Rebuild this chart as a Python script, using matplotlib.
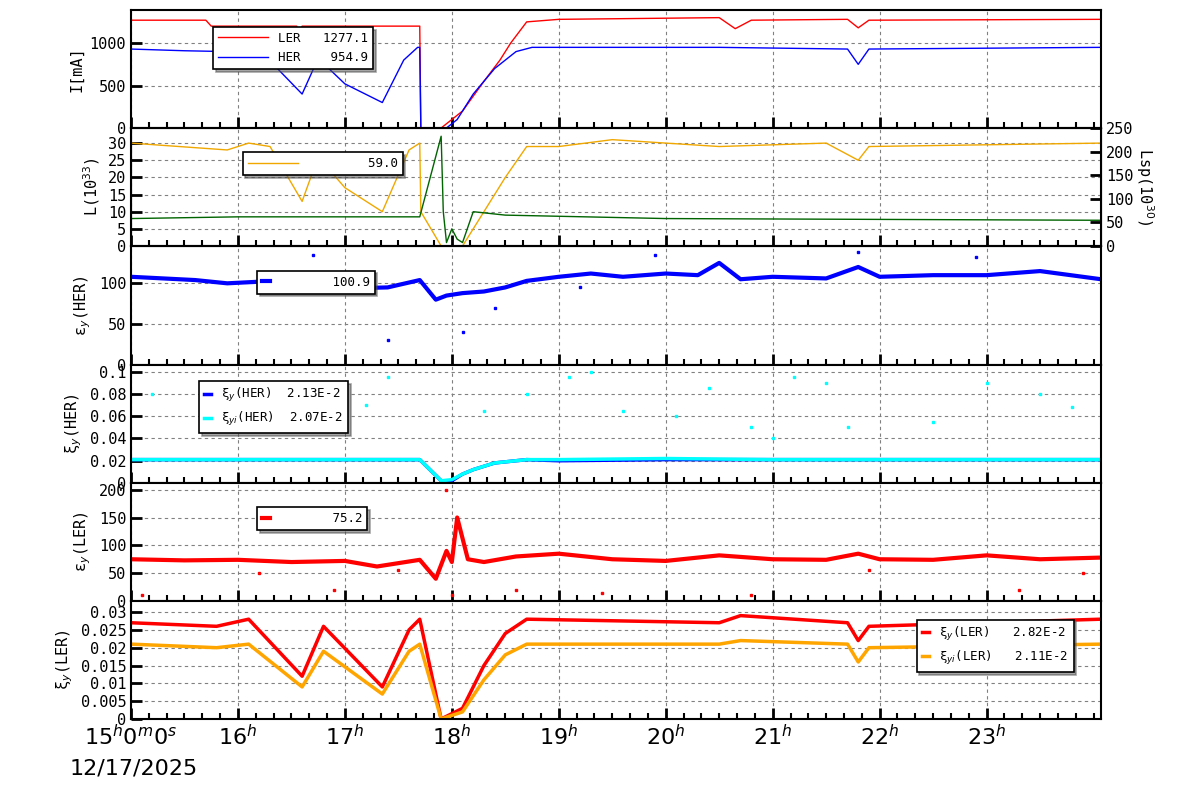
import matplotlib
matplotlib.use("Agg")
import matplotlib.pyplot as plt
import numpy as np

plt.rcParams["font.family"] = ["DejaVu Sans Mono", "DejaVu Sans"]

# ---- data (hours since midnight) ----
her_t = [15.0, 15.5, 15.9, 16.2, 16.6, 16.75, 17.0, 17.35, 17.55, 17.68, 17.7, 17.71, 17.95,
         18.05, 18.2, 18.4, 18.6, 18.75, 20.5, 21.7, 21.8, 21.9, 24.07]
her_i = [930, 910, 900, 920, 400, 820, 520, 300, 800, 950, 950, 0, 0,
         100, 400, 700, 900, 950, 950, 930, 750, 930, 950]
ler_t = [15.0, 15.7, 15.75, 16.55, 16.57, 16.6, 17.7, 17.71, 17.9, 18.1, 18.3, 18.45, 18.55,
         18.7, 19.0, 20.5, 20.65, 20.8, 21.7, 21.8, 21.9, 24.07]
ler_i = [1270, 1270, 1200, 1200, 1060, 1200, 1200, 0, 0, 200, 550, 800, 1000,
         1250, 1280, 1300, 1170, 1270, 1280, 1180, 1270, 1280]

lum_t = [15.0, 15.9, 16.1, 16.3, 16.6, 16.75, 17.0, 17.35, 17.6, 17.7, 17.71, 17.9, 18.1,
         18.3, 18.5, 18.7, 19.0, 19.5, 20.5, 21.5, 21.8, 21.9, 24.07]
lum_v = [30, 28, 30, 29, 13, 26, 17, 10, 28, 30, 10, 0, 0,
         10, 20, 29, 29, 31, 29, 30, 25, 29, 30]
lsp_t = [15.0, 16.0, 17.0, 17.7, 17.9, 17.92, 17.95, 18.0, 18.05, 18.1, 18.2, 18.5, 20.0, 24.07]
lsp_v = [8, 8.5, 8.5, 8.5, 32, 10, 1, 5, 2, 1, 10, 9, 8, 7.5]

ey_her_t = [15.0, 15.3, 15.6, 15.9, 16.2, 16.5, 16.8, 17.1, 17.4, 17.7, 17.85, 17.95, 18.1,
            18.3, 18.5, 18.7, 19.0, 19.3, 19.6, 20.0, 20.3, 20.5, 20.7, 21.0, 21.5, 21.8,
            22.0, 22.5, 23.0, 23.5, 24.07]
ey_her_v = [108, 106, 104, 100, 102, 97, 99, 94, 95, 104, 80, 85, 88,
            90, 95, 103, 108, 112, 108, 112, 110, 125, 105, 108, 106, 120,
            108, 110, 110, 115, 105]
ey_her_out_t = [16.7, 17.4, 18.1, 18.4, 19.2, 19.9, 21.8, 22.9]
ey_her_out_v = [135, 30, 40, 70, 95, 135, 138, 132]

xi_t = [15.0, 16.0, 17.0, 17.7, 17.9, 18.0, 18.1, 18.2, 18.4, 18.7, 19.0, 20.0, 21.0,
        22.0, 23.0, 24.07]
xi_her = [0.021, 0.021, 0.021, 0.021, 0.002, 0.002, 0.008, 0.012, 0.018, 0.021, 0.020,
          0.021, 0.021, 0.021, 0.021, 0.021]
xi_her_i = [0.021, 0.021, 0.021, 0.021, 0.002, 0.003, 0.008, 0.012, 0.018, 0.021, 0.021,
            0.022, 0.021, 0.021, 0.021, 0.021]
xi_out_t = [15.2, 15.7, 16.3, 16.7, 17.2, 17.4, 18.3, 18.7, 19.1, 19.3, 19.6, 20.1, 20.4,
            20.8, 21.0, 21.2, 21.5, 21.7, 22.5, 23.0, 23.5, 23.8]
xi_out_v = [0.08, 0.09, 0.07, 0.06, 0.07, 0.095, 0.065, 0.08, 0.095, 0.1, 0.065, 0.06,
            0.085, 0.05, 0.04, 0.095, 0.09, 0.05, 0.055, 0.09, 0.08, 0.068]

ey_ler_t = [15.0, 15.5, 16.0, 16.5, 17.0, 17.3, 17.7, 17.85, 17.95, 18.0, 18.05, 18.15,
            18.3, 18.6, 19.0, 19.5, 20.0, 20.5, 21.0, 21.5, 21.8, 22.0, 22.5, 23.0, 23.5, 24.07]
ey_ler_v = [75, 73, 74, 70, 72, 62, 74, 40, 90, 70, 150, 75,
            70, 80, 85, 75, 72, 82, 75, 74, 85, 75, 74, 82, 75, 78]
ey_ler_out_t = [15.1, 16.2, 16.9, 17.5, 17.95, 18.0, 18.6, 19.4, 20.8, 21.9, 23.3, 23.9]
ey_ler_out_v = [10, 50, 20, 55, 200, 10, 20, 15, 10, 55, 20, 50]

xl_t = [15.0, 15.8, 16.1, 16.6, 16.8, 17.35, 17.6, 17.7, 17.9, 18.1, 18.3, 18.5, 18.7,
        20.5, 20.7, 21.7, 21.8, 21.9, 24.07]
xl_y = [0.027, 0.026, 0.028, 0.012, 0.026, 0.009, 0.025, 0.028, 0.0, 0.003, 0.015, 0.024,
        0.028, 0.027, 0.029, 0.027, 0.022, 0.026, 0.028]
xl_yi = [0.021, 0.020, 0.021, 0.009, 0.019, 0.007, 0.019, 0.021, 0.0, 0.002, 0.011, 0.018,
         0.021, 0.021, 0.022, 0.021, 0.016, 0.020, 0.021]

hours = [15, 16, 17, 18, 19, 20, 21, 22, 23]
hour_labels = ["15$^h$0$^m$0$^s$"] + [f"{h}$^h$" for h in hours[1:]]

fig = plt.figure(figsize=(12, 7.98), dpi=100)
tops = [10, 128, 246, 365, 483, 601, 719]
axes = []
for k in range(6):
    y0 = 1 - tops[k + 1] / 798
    h = (tops[k + 1] - tops[k]) / 798
    ax = fig.add_axes([131 / 1200, y0, (1101 - 131) / 1200, h])
    ax.set_xlim(15.0, 24.07)
    ax.set_xticks(hours)
    ax.set_xticks(np.arange(15, 24.07, 1 / 6), minor=True)
    ax.grid(True, color="gray", ls=(0, (3, 3)), lw=0.8)
    ax.tick_params(direction="in", length=8, width=2, labelsize=11, top=False)
    ax.tick_params(which="minor", direction="in", length=4, width=1.5)
    for s in ax.spines.values():
        s.set_linewidth(1.5)
    if k < 5:
        ax.set_xticklabels([])
    axes.append(ax)


def boxleg(ax, loc, hl=4):
    lg = ax.legend(loc=loc, fontsize=9, frameon=True, fancybox=False, shadow=True,
                   edgecolor="black", framealpha=1, handlelength=hl)
    lg.get_frame().set_linewidth(1.2)
    return lg


ax = axes[0]
ax.plot(ler_t, ler_i, color="red", lw=1, label="LER   1277.1")
ax.plot(her_t, her_i, color="blue", lw=1, label="HER    954.9")
ax.set_ylim(0, 1390)
ax.set_yticks([0, 500, 1000])
ax.set_ylabel("I[mA]", fontsize=11)
boxleg(ax, (0.085, 0.5))

ax = axes[1]
ax.plot(lum_t, lum_v, color="#f0a800", lw=1, label="        59.0")
ax.plot(lsp_t, lsp_v, color="darkgreen", lw=1)
ax.set_ylim(0, 34.4)
ax.set_yticks([0, 5, 10, 15, 20, 25, 30])
ax.set_ylabel("L(10$^{33}$)", fontsize=11)
boxleg(ax, (0.115, 0.6))
ax2 = ax.twinx()
ax2.set_ylim(0, 250)
ax2.set_yticks([0, 50, 100, 150, 200, 250])
ax2.tick_params(direction="in", length=8, width=2, labelsize=11)
ax2.set_ylabel("Lsp(10$^{30}$)", fontsize=11, rotation=270, labelpad=16)

ax = axes[2]
ax.plot(ey_her_t, ey_her_v, color="blue", lw=3, label="       100.9")
ax.plot(ey_her_out_t, ey_her_out_v, color="blue", ls="none", marker="s", ms=2)
ax.set_ylim(0, 145.7)
ax.set_yticks([0, 50, 100])
ax.set_ylabel("ε$_y$(HER)", fontsize=11)
boxleg(ax, (0.13, 0.6), hl=0.6)

ax = axes[3]
ax.plot(xi_t, xi_her, color="blue", lw=2.5, label="ξ$_y$(HER)  2.13E-2")
ax.plot(xi_t, xi_her_i, color="cyan", lw=2.5, label="ξ$_{yi}$(HER)  2.07E-2")
ax.plot(xi_out_t, xi_out_v, color="cyan", ls="none", marker="s", ms=2)
ax.set_ylim(0, 0.106)
ax.set_yticks([0, 0.02, 0.04, 0.06, 0.08, 0.1])
ax.set_yticklabels(["0", "0.02", "0.04", "0.06", "0.08", "0.1"])
ax.set_ylabel("ξ$_y$(HER)", fontsize=11)
boxleg(ax, (0.07, 0.42), hl=0.6)

ax = axes[4]
ax.plot(ey_ler_t, ey_ler_v, color="red", lw=3, label="       75.2")
ax.plot(ey_ler_out_t, ey_ler_out_v, color="red", ls="none", marker="s", ms=2)
ax.set_ylim(0, 212)
ax.set_yticks([0, 50, 100, 150, 200])
ax.set_ylabel("ε$_y$(LER)", fontsize=11)
boxleg(ax, (0.13, 0.6), hl=0.6)

ax = axes[5]
ax.plot(xl_t, xl_y, color="red", lw=2.5, label="ξ$_y$(LER)   2.82E-2")
ax.plot(xl_t, xl_yi, color="orange", lw=2.5, label="ξ$_{yi}$(LER)   2.11E-2")
ax.set_ylim(0, 0.0331)
ax.set_yticks([0, 0.005, 0.01, 0.015, 0.02, 0.025, 0.03])
ax.set_yticklabels(["0", "0.005", "0.01", "0.015", "0.02", "0.025", "0.03"])
ax.set_ylabel("ξ$_y$(LER)", fontsize=11)
boxleg(ax, (0.81, 0.4), hl=0.6)
ax.set_xticklabels(hour_labels, fontsize=16, family="DejaVu Sans")
fig.text(70 / 1200, 1 - 768 / 798, "12/17/2025", fontsize=16, family="DejaVu Sans", va="center")

fig.savefig("out.png", dpi=100)
